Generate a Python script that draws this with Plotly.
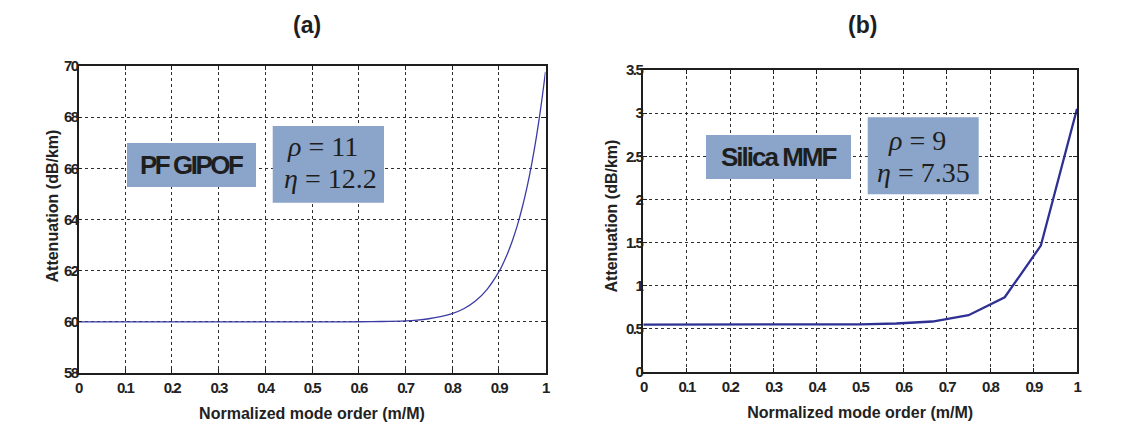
import plotly.graph_objects as go
from plotly.subplots import make_subplots

W, H = 1145, 448

# ---- Data -------------------------------------------------------------
# (a) PF GIPOF: attenuation vs normalized mode order
pof_mode = [0.0, 0.1, 0.2, 0.3, 0.4, 0.5, 0.55, 0.6, 0.65, 0.7, 0.725, 0.75,
            0.775, 0.8, 0.825, 0.85, 0.875, 0.9, 0.91, 0.92, 0.93, 0.94,
            0.95, 0.96, 0.97, 0.98, 0.99, 1.0]
pof_atten = [60.0, 60.0, 60.0, 60.0, 60.0, 60.0, 60.001, 60.004, 60.013,
             60.04, 60.07, 60.12, 60.2, 60.32, 60.51, 60.81, 61.27, 61.95,
             62.31, 62.73, 63.22, 63.79, 64.46, 65.23, 66.13, 67.17, 68.38,
             69.77]

# (b) Silica MMF: 12 mode groups
mmf_mode = [0, 1/12, 2/12, 3/12, 4/12, 5/12, 6/12, 7/12, 8/12, 9/12,
            10/12, 11/12, 1.0]
mmf_atten = [0.55, 0.55, 0.55, 0.55, 0.55, 0.55, 0.552, 0.562, 0.585,
             0.658, 0.866, 1.465, 3.05]

x_ticks = [0, 0.1, 0.2, 0.3, 0.4, 0.5, 0.6, 0.7, 0.8, 0.9, 1]
x_tick_text = ["0", "0.1", "0.2", "0.3", "0.4", "0.5", "0.6", "0.7", "0.8",
               "0.9", "1"]
a_y_ticks = [58, 60, 62, 64, 66, 68, 70]
b_y_ticks = [0, 0.5, 1, 1.5, 2, 2.5, 3, 3.5]
b_y_tick_text = ["0", "0.5", "1", "1.5", "2", "2.5", "3", "3.5"]

panel_titles = ["(a)", "(b)"]
fiber_labels = ["PF GIPOF", "Silica MMF"]
param_lines = [["ρ = 11", "η = 12.2"], ["ρ = 9", "η = 7.35"]]
x_title = "Normalized mode order (m/M)"
y_title = "Attenuation (dB/km)"

# ---- Helpers ----------------------------------------------------------
def px_x(p):
    return p / W


def px_y(p):
    return 1 - p / H


def tight(s, sp=-1.5):
    return f'<span style="letter-spacing:{sp}px">{s}</span>'


SANS = "Liberation Sans, Arial, sans-serif"
SERIF = "Liberation Serif, Times New Roman, serif"
BOX = "#8aa5c9"
INK = "#1e1e1e"

fig = make_subplots(rows=1, cols=2)

fig.add_trace(go.Scatter(x=pof_mode, y=pof_atten, mode="lines",
                         line=dict(color="#3b3ca3", width=1.3, shape="spline"),
                         showlegend=False), row=1, col=1)
fig.add_trace(go.Scatter(x=mmf_mode, y=mmf_atten, mode="lines",
                         line=dict(color="#2e3193", width=2.3),
                         showlegend=False), row=1, col=2)

axis_common = dict(
    showline=True, linecolor=INK, linewidth=1.8, mirror="ticks",
    ticks="inside", ticklen=4, tickcolor=INK, tickwidth=1,
    showgrid=True, gridcolor="#2e2e2e", gridwidth=1, griddash="dot",
    zeroline=False, automargin=False,
    tickfont=dict(family=SANS, size=15, color="#222222", weight="bold"),
)

domains_x = [(78.5, 545.5), (643.3, 1077)]
domains_y = [(66, 373), (70, 372)]

for i, (dx, dy) in enumerate(zip(domains_x, domains_y)):
    xa = "xaxis" if i == 0 else "xaxis2"
    ya = "yaxis" if i == 0 else "yaxis2"
    fig.layout[xa].update(
        domain=[px_x(dx[0]), px_x(dx[1])], range=[0, 1],
        tickvals=x_ticks, ticktext=[tight(t) for t in x_tick_text],
        title=dict(text=x_title, standoff=13,
                   font=dict(family=SANS, size=16, color="#222222",
                             weight="bold")),
        **axis_common)
    fig.layout[ya].update(
        domain=[px_y(dy[1]), px_y(dy[0])],
        ticklabelstandoff=-4,
        **axis_common)

fig.update_yaxes(range=[58, 70], tickvals=a_y_ticks,
                 ticktext=[tight(str(t)) for t in a_y_ticks], row=1, col=1)
fig.update_yaxes(range=[0, 3.5], tickvals=b_y_ticks,
                 ticktext=[tight(t) for t in b_y_tick_text], row=1, col=2)

# Vertical axis titles
for cx, cy in [(52, 206.5), (611, 216.5)]:
    fig.add_annotation(x=px_x(cx), y=px_y(cy), xref="paper", yref="paper",
                       xanchor="center", yanchor="middle", textangle=-90,
                       text=y_title, showarrow=False,
                       font=dict(family=SANS, size=16, color="#222222",
                                 weight="bold"))

# Panel titles
for cx, t in zip([307, 862], panel_titles):
    fig.add_annotation(x=px_x(cx), y=px_y(25), xref="paper", yref="paper",
                       xanchor="center", yanchor="middle",
                       text=t, showarrow=False,
                       font=dict(family=SANS, size=23, color=INK,
                                 weight="bold"))

# Fiber-type label boxes
label_boxes = [(127, 143, 256, 187), (706, 135, 851, 179)]
label_sizes = [26, 26]
label_spacing = [-2.5, -2]
for (x0, y0, x1, y1), txt, fs, sp in zip(label_boxes, fiber_labels,
                                         label_sizes, label_spacing):
    fig.add_shape(type="rect", xref="paper", yref="paper",
                  x0=px_x(x0), x1=px_x(x1), y0=px_y(y1), y1=px_y(y0),
                  fillcolor=BOX, line=dict(width=0), layer="above")
    fig.add_annotation(x=px_x((x0 + x1) / 2), y=px_y((y0 + y1) / 2),
                       xref="paper", yref="paper", showarrow=False,
                       xanchor="center", yanchor="middle",
                       text=tight(txt, sp),
                       font=dict(family=SANS, size=fs, color=INK,
                                 weight="bold"))

# Parameter boxes
param_boxes = [(272.7, 126, 384, 202.7), (867.7, 117.3, 978.7, 194.3)]
line_pos = [[(285, 146.7), (282, 178)], [(886, 141), (875, 172)]]
for (x0, y0, x1, y1), lines, pos in zip(param_boxes, param_lines, line_pos):
    fig.add_shape(type="rect", xref="paper", yref="paper",
                  x0=px_x(x0), x1=px_x(x1), y0=px_y(y1), y1=px_y(y0),
                  fillcolor=BOX, line=dict(width=0), layer="above")
    for txt, (lx, ly) in zip(lines, pos):
        sym, rest = txt.split(" ", 1)
        fig.add_annotation(x=px_x(lx), y=px_y(ly), xref="paper",
                           yref="paper", xanchor="left", yanchor="middle",
                           showarrow=False,
                           text=f"<i>{sym}</i> {rest}",
                           font=dict(family=SERIF, size=28, color=INK))

fig.update_layout(width=W, height=H, margin=dict(l=0, r=0, t=0, b=0),
                  paper_bgcolor="white", plot_bgcolor="white",
                  showlegend=False)

fig.write_html("out.html")
